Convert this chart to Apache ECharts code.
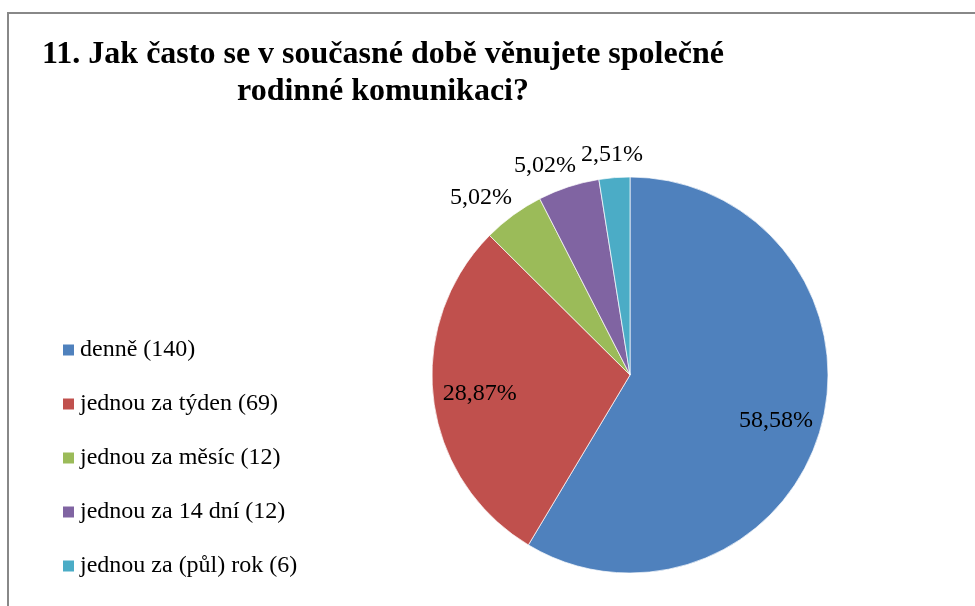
<!DOCTYPE html>
<html>
<head>
<meta charset="utf-8">
<title>Rodinná komunikace</title>
<script src="https://cdn.jsdelivr.net/npm/echarts@6/dist/echarts.min.js"></script>
<style>
  html, body { margin: 0; padding: 0; background: #fff; }
  #chart { width: 975px; height: 606px; }
</style>
</head>
<body>
<div id="chart"></div>
<script>
// odpovědi a počty respondentů
const categories = ["denně", "jednou za týden", "jednou za měsíc", "jednou za 14 dní", "jednou za (půl) rok"];
const counts = [140, 69, 12, 12, 6];
const colors = ["#4F81BD", "#C0504D", "#9BBB59", "#8064A2", "#4BACC6"];
// které popisky jsou uvnitř výseče
const insideLabel = [true, true, false, false, false];

const legendNames = categories.map((c, i) => c + " (" + counts[i] + ")");

const serif = "'Liberation Serif', 'Times New Roman', serif";

function pct(p) {
  return p.percent.toFixed(2).replace(".", ",") + "%";
}

const chart = echarts.init(document.getElementById("chart"));

const option = {
  animation: false,
  color: colors,
  title: {
    text: "11. Jak často se v současné době věnujete společné\nrodinné komunikaci?",
    left: 378,
    top: 31,
    textAlign: "center",
    textStyle: {
      fontFamily: serif,
      fontWeight: "bold",
      fontSize: 32,
      lineHeight: 37,
      color: "#000"
    }
  },
  legend: {
    orient: "vertical",
    left: 56,
    top: 333,
    itemWidth: 13,
    itemHeight: 13,
    itemGap: 30,
    icon: "rect",
    selectedMode: false,
    data: legendNames,
    textStyle: {
      fontFamily: serif,
      fontSize: 24,
      lineHeight: 24,
      color: "#000"
    }
  },
  graphic: [
    {
      type: "rect",
      shape: { x: 8, y: 13, width: 1100, height: 800 },
      style: { fill: "none", stroke: "#888", lineWidth: 2 },
      silent: true
    }
  ],
  series: [
    {
      type: "pie",
      center: [630, 375],
      radius: 198,
      startAngle: 90,
      percentPrecision: 2,
      label: { show: false },
      labelLine: { show: false },
      itemStyle: { borderColor: "#fff", borderWidth: 0.7 },
      emphasis: { disabled: true },
      data: legendNames.map((n, i) => ({ name: n, value: counts[i] }))
    },
    {
      // popisky uvnitř velkých výsečí
      type: "pie",
      center: [630, 375],
      radius: [99, 198],
      startAngle: 90,
      percentPrecision: 2,
      silent: true,
      itemStyle: { color: "transparent" },
      labelLine: { show: false },
      label: {
        position: "inside",
        formatter: pct,
        fontFamily: serif,
        fontSize: 24,
        color: "#000"
      },
      labelLayout: p => (p.dataIndex === 0 ? { dy: 5 } : {}),
      data: legendNames.map((n, i) => ({
        name: n, value: counts[i],
        label: { show: insideLabel[i] }
      }))
    },
    {
      // popisky nad malými výsečemi
      type: "pie",
      center: [630, 375],
      radius: [198, 254],
      startAngle: 90,
      percentPrecision: 2,
      silent: true,
      itemStyle: { color: "transparent" },
      labelLine: { show: false },
      label: {
        position: "inside",
        formatter: pct,
        fontFamily: serif,
        fontSize: 24,
        color: "#000"
      },
      labelLayout: p => (p.dataIndex === 4 ? { dy: 8 } : { dx: -14, dy: 8 }),
      data: legendNames.map((n, i) => ({
        name: n, value: counts[i],
        label: { show: !insideLabel[i] }
      }))
    }
  ]
};

chart.setOption(option);
</script>
</body>
</html>
